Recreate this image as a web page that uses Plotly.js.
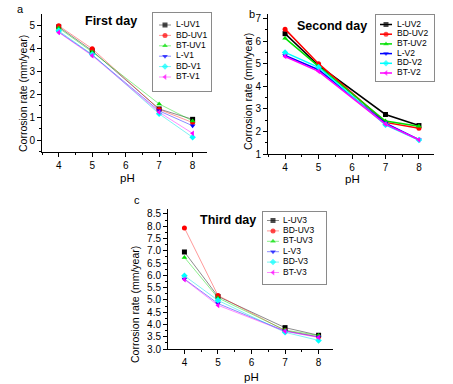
<!DOCTYPE html>
<html>
<head>
<meta charset="utf-8">
<script src="https://cdn.plot.ly/plotly-3.0.1.min.js"></script>
<style>html,body{margin:0;padding:0;background:#fff;}#chart{width:453px;height:384px;}</style>
</head>
<body>
<div id="chart"></div>
<script>
// ---- data ----
const pH = [4, 5, 7, 8];

const namesA = ['L-UV1', 'BD-UV1', 'BT-UV1', 'L-V1', 'BD-V1', 'BT-V1'];
const LUV1 = [4.92, 3.88, 1.35, 0.90];
const BDUV1 = [4.97, 3.97, 1.33, 0.76];
const BTUV1 = [4.87, 3.83, 1.57, 0.83];
const LV1 = [4.70, 3.70, 1.27, 0.62];
const BDV1 = [4.75, 3.72, 1.14, 0.12];
const BTV1 = [4.68, 3.67, 1.21, 0.29];

const namesB = ['L-UV2', 'BD-UV2', 'BT-UV2', 'L-V2', 'BD-V2', 'BT-V2'];
const LUV2 = [6.33, 4.92, 2.75, 2.26];
const BDUV2 = [6.53, 5.00, 2.40, 2.14];
const BTUV2 = [6.13, 4.88, 2.46, 2.23];
const LV2 = [5.36, 4.73, 2.37, 1.63];
const BDV2 = [5.50, 4.84, 2.29, 1.62];
const BTV2 = [5.32, 4.66, 2.32, 1.63];

const namesC = ['L-UV3', 'BD-UV3', 'BT-UV3', 'L-V3', 'BD-V3', 'BT-V3'];
const LUV3 = [6.95, 5.14, 3.87, 3.56];
const BDUV3 = [7.93, 5.18, 3.75, 3.50];
const BTUV3 = [6.73, 5.08, 3.77, 3.55];
const LV3 = [5.85, 4.85, 3.73, 3.49];
const BDV3 = [5.98, 4.98, 3.68, 3.35];
const BTV3 = [5.83, 4.78, 3.72, 3.47];

const xTicks = [4, 5, 6, 7, 8];
const panelTitles = ['First day', 'Second day', 'Third day'];
const panelLabels = ['a', 'b', 'c'];
const yTitle = 'Corrosion rate (mm/year)';
const xTitle = 'pH';

// ---- styles ----
const W = 453, H = 384;
const colors = ['#000000', '#ff0000', '#00e000', '#0000ff', '#00ffff', '#ff00ff'];
const fadedColors = ['rgba(0,0,0,0.45)', 'rgba(255,0,0,0.4)', 'rgba(0,220,0,0.45)', 'rgba(0,0,255,0.45)', 'rgba(0,230,230,0.5)', 'rgba(255,0,255,0.45)'];
const symbols = ['square', 'circle', 'triangle-up', 'triangle-down', 'diamond', 'triangle-left'];
const FONT = 'Liberation Sans, Arial, sans-serif';

const px = v => v / W;
const py = v => 1 - v / H;

const panels = [
  {series: [LUV1, BDUV1, BTUV1, LV1, BDV1, BTV1], names: namesA, xa: 'x', ya: 'y', faded: true, lw: 1},
  {series: [LUV2, BDUV2, BTUV2, LV2, BDV2, BTV2], names: namesB, xa: 'x2', ya: 'y2', faded: false, lw: 1.5},
  {series: [LUV3, BDUV3, BTUV3, LV3, BDV3, BTV3], names: namesC, xa: 'x3', ya: 'y3', faded: true, lw: 1}
];

const traces = [];
panels.forEach(p => {
  p.series.forEach((vals, i) => {
    traces.push({
      x: pH, y: vals, name: p.names[i], type: 'scatter', mode: 'lines+markers',
      xaxis: p.xa, yaxis: p.ya, showlegend: false,
      line: {color: p.faded ? fadedColors[i] : colors[i], width: p.lw},
      marker: {color: colors[i], symbol: symbols[i], size: 5, line: {width: 0}}
    });
  });
});

// custom compact legends (one extra axis pair per panel)
const legends = [
  {xa: 'x4', ya: 'y4', box: [153, 211, 13, 91], first: 12, step: 10.4, lineX: [6, 12, 18], textX: 23, faded: true, lw: 1},
  {xa: 'x5', ya: 'y5', box: [376, 434, 15, 81], first: 9.5, step: 9.7, lineX: [4, 10, 16], textX: 21, faded: false, lw: 1.5},
  {xa: 'x6', ya: 'y6', box: [263, 326, 212, 284], first: 8.5, step: 10.4, lineX: [4, 10, 16], textX: 20, faded: true, lw: 1}
];
legends.forEach((lg, k) => {
  panels[k].names.forEach((nm, i) => {
    const yy = lg.first + i * lg.step;
    traces.push({
      x: lg.lineX, y: [yy, yy, yy], type: 'scatter', mode: 'lines+markers',
      xaxis: lg.xa, yaxis: lg.ya, showlegend: false, hoverinfo: 'skip',
      line: {color: lg.faded ? fadedColors[i] : colors[i], width: lg.lw},
      marker: {color: colors[i], symbol: symbols[i], size: [0, 5, 0], line: {width: 0}}
    });
    traces.push({
      x: [lg.textX], y: [yy], type: 'scatter', mode: 'text', text: [nm],
      textposition: 'middle right', textfont: {family: FONT, size: 8.5, color: '#000'},
      xaxis: lg.xa, yaxis: lg.ya, showlegend: false, hoverinfo: 'skip'
    });
  });
});

function mainX(dom) {
  return {
    domain: dom, range: [3.5, 8.43], tickvals: xTicks, showline: true, linecolor: '#000', linewidth: 1,
    ticks: 'outside', ticklen: 4, tickwidth: 1, tickcolor: '#000', showgrid: false, zeroline: false,
    minor: {ticks: 'outside', ticklen: 2, tickcolor: '#000', dtick: 0.5, showgrid: false},
    tickfont: {family: FONT, size: 10, color: '#000'}
  };
}
function mainY(dom, range, dtick, fmt, minorDt) {
  return {
    domain: dom, range: range, dtick: dtick, tick0: 0, tickformat: fmt, showline: true, linecolor: '#000', linewidth: 1,
    ticks: 'outside', ticklen: 4, tickwidth: 1, tickcolor: '#000', showgrid: false, zeroline: false,
    minor: {ticks: 'outside', ticklen: 2, tickcolor: '#000', dtick: minorDt, showgrid: false},
    tickfont: {family: FONT, size: 10, color: '#000'}
  };
}
function legAxis(dom, range) {
  return {domain: dom, range: range, showline: true, mirror: true, linecolor: '#8a8a8a', linewidth: 1,
    showticklabels: false, ticks: '', showgrid: false, zeroline: false, fixedrange: true};
}

const layout = {
  width: W, height: H, margin: {l: 0, r: 0, t: 0, b: 0},
  paper_bgcolor: '#fff', plot_bgcolor: 'rgba(0,0,0,0)', showlegend: false,
  xaxis: mainX([px(42), px(207)]),
  yaxis: mainY([py(152), py(14)], [-0.52, 5.48], 1, '', 0.5),
  xaxis2: Object.assign(mainX([px(268), px(434)]), {range: [3.49, 8.45]}),
  yaxis2: mainY([py(154), py(14)], [1, 7.2], 1, '', 0.5),
  xaxis3: Object.assign(mainX([px(168), px(333)]), {range: [3.51, 8.43]}),
  yaxis3: mainY([py(349), py(209)], [3, 8.7], 0.5, '.1f', 0.25),
  annotations: []
};
legends.forEach((lg, k) => {
  const b = lg.box;
  layout['xaxis' + (4 + k)] = legAxis([px(b[0]), px(b[1])], [0, b[1] - b[0]]);
  layout['yaxis' + (4 + k)] = legAxis([py(b[3]), py(b[2])], [b[3] - b[2], 0]);
});
layout.xaxis4.anchor = 'y4'; layout.yaxis4.anchor = 'x4';
layout.xaxis5.anchor = 'y5'; layout.yaxis5.anchor = 'x5';
layout.xaxis6.anchor = 'y6'; layout.yaxis6.anchor = 'x6';
layout.xaxis.anchor = 'y'; layout.yaxis.anchor = 'x';
layout.xaxis2.anchor = 'y2'; layout.yaxis2.anchor = 'x2';
layout.xaxis3.anchor = 'y3'; layout.yaxis3.anchor = 'x3';

const titlePos = [[111, 21], [332, 26], [228, 220]];
const labelPos = [[20, 9], [252, 14], [137, 200]];
const yTitlePos = [[23, 94], [248, 92], [135, 305]];
const xTitlePos = [[127, 178], [352, 179], [252, 377]];
for (let k = 0; k < 3; k++) {
  layout.annotations.push({text: '<b>' + panelTitles[k] + '</b>', xref: 'paper', yref: 'paper',
    x: px(titlePos[k][0]), y: py(titlePos[k][1]), xanchor: 'center', yanchor: 'middle', showarrow: false,
    font: {family: FONT, size: 12.5, color: '#000'}});
  layout.annotations.push({text: panelLabels[k], xref: 'paper', yref: 'paper',
    x: px(labelPos[k][0]), y: py(labelPos[k][1]), xanchor: 'center', yanchor: 'middle', showarrow: false,
    font: {family: FONT, size: 11, color: '#000'}});
  layout.annotations.push({text: yTitle, xref: 'paper', yref: 'paper', textangle: -90,
    x: px(yTitlePos[k][0]), y: py(yTitlePos[k][1]), xanchor: 'center', yanchor: 'middle', showarrow: false,
    font: {family: FONT, size: 10.5, color: '#000'}});
  layout.annotations.push({text: xTitle, xref: 'paper', yref: 'paper',
    x: px(xTitlePos[k][0]), y: py(xTitlePos[k][1]), xanchor: 'center', yanchor: 'middle', showarrow: false,
    font: {family: FONT, size: 11.5, color: '#000'}});
}

Plotly.newPlot('chart', traces, layout, {staticPlot: true, displayModeBar: false});
</script>
</body>
</html>
